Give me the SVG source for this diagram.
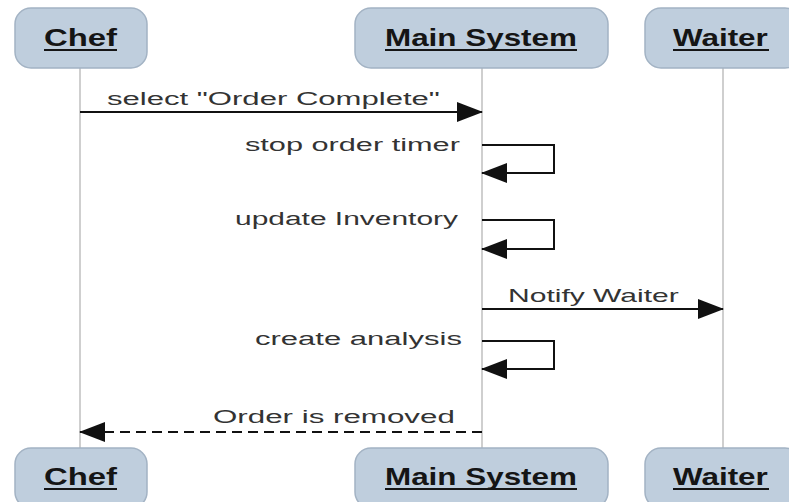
<svg xmlns="http://www.w3.org/2000/svg" width="789" height="502" viewBox="0 0 789 502">
<style>
.box{fill:#bfcedd;stroke:#a3b3c4;stroke-width:1.5}
.hdr{font-family:"Liberation Sans",Arial,sans-serif;font-weight:bold;font-size:23px;fill:#151515}
.ul{stroke:#151515;stroke-width:2}
.life{stroke:#cfcfcf;stroke-width:2;fill:none}
.msg{stroke:#111;stroke-width:2;fill:none}
.dash{stroke-dasharray:10,6}
.lbl{font-family:"Liberation Sans",Arial,sans-serif;font-size:19px;fill:#333}
</style>
<defs>
<marker id="ah" markerUnits="userSpaceOnUse" markerWidth="26" markerHeight="20" refX="25" refY="10" orient="auto" viewBox="0 0 26 20">
<path d="M0,0 L26,10 L0,20 z" fill="#111"/>
</marker>
</defs>
<g id="lifelines">
<line class="life" x1="80" y1="68" x2="80" y2="448"/>
<line class="life" x1="482" y1="68" x2="482" y2="448"/>
<line class="life" x1="723" y1="68" x2="723" y2="448"/>
</g>
<g id="chef-top">
<rect class="box" x="15" y="8" width="132" height="60" rx="16"/>
<text class="hdr" transform="translate(44,46) scale(1.43,1)">Chef</text>
<line class="ul" x1="44" y1="50" x2="117" y2="50"/>
</g>
<g id="main-top">
<rect class="box" x="355" y="8" width="253" height="60" rx="16"/>
<text class="hdr" transform="translate(385,46) scale(1.366,1)">Main System</text>
<line class="ul" x1="385" y1="50" x2="577" y2="50"/>
</g>
<g id="waiter-top">
<rect class="box" x="645" y="8" width="156" height="60" rx="16"/>
<text class="hdr" transform="translate(673,46) scale(1.366,1)">Waiter</text>
<line class="ul" x1="673" y1="50" x2="769" y2="50"/>
</g>
<g id="chef-bottom">
<rect class="box" x="15" y="448" width="132" height="60" rx="16"/>
<text class="hdr" transform="translate(44,485) scale(1.43,1)">Chef</text>
<line class="ul" x1="44" y1="489" x2="117" y2="489"/>
</g>
<g id="main-bottom">
<rect class="box" x="355" y="448" width="253" height="60" rx="16"/>
<text class="hdr" transform="translate(385,485) scale(1.366,1)">Main System</text>
<line class="ul" x1="385" y1="489" x2="577" y2="489"/>
</g>
<g id="waiter-bottom">
<rect class="box" x="645" y="448" width="156" height="60" rx="16"/>
<text class="hdr" transform="translate(673,485) scale(1.366,1)">Waiter</text>
<line class="ul" x1="673" y1="489" x2="769" y2="489"/>
</g>
<g id="connectors">
<line class="msg" x1="80" y1="112" x2="482" y2="112" marker-end="url(#ah)"/>
<path class="msg" d="M482,145 H554 V173 H482" marker-end="url(#ah)"/>
<path class="msg" d="M482,220 H554 V249 H482" marker-end="url(#ah)"/>
<line class="msg" x1="482" y1="309" x2="723" y2="309" marker-end="url(#ah)"/>
<path class="msg" d="M482,341 H554 V369 H482" marker-end="url(#ah)"/>
<line class="msg dash" x1="482" y1="432" x2="80" y2="432" marker-end="url(#ah)"/>
</g>
<g id="labels">
<text class="lbl" transform="translate(107,105) scale(1.636,1)">select "Order Complete"</text>
<text class="lbl" transform="translate(245,151) scale(1.616,1)">stop order timer</text>
<text class="lbl" transform="translate(235,225) scale(1.576,1)">update Inventory</text>
<text class="lbl" transform="translate(508,302) scale(1.582,1)">Notify Waiter</text>
<text class="lbl" transform="translate(255,345) scale(1.634,1)">create analysis</text>
<text class="lbl" transform="translate(213,423) scale(1.649,1)">Order is removed</text>
</g>
</svg>
